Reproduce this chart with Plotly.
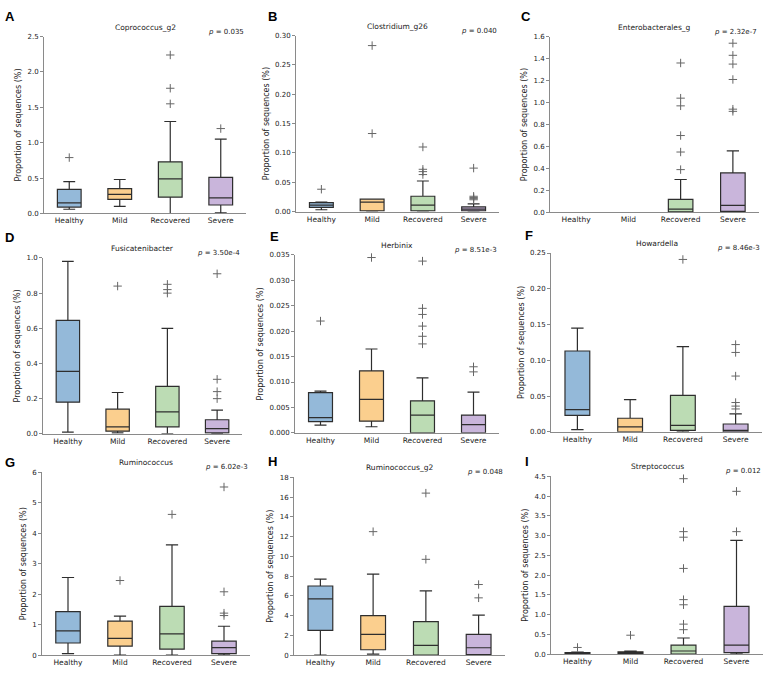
import plotly.graph_objects as go

# ---------------- data ----------------
GROUPS = ["Healthy", "Mild", "Recovered", "Severe"]
TAXA = ["Coprococcus_g2", "Clostridium_g26", "Enterobacterales_g",
        "Fusicatenibacter", "Herbinix", "Howardella",
        "Ruminococcus", "Ruminococcus_g2", "Streptococcus"]
PANEL_LETTERS = ["A", "B", "C", "D", "E", "F", "G", "H", "I"]
P_VALUES = ["0.035", "0.040", "2.32e-7", "3.50e-4", "8.51e-3", "8.46e-3",
            "6.02e-3", "0.048", "0.012"]

# box statistics per group: [lower whisker, q1, median, q3, upper whisker]
coprococcus_g2_box = [[0.06, 0.09, 0.15, 0.34, 0.45], [0.10, 0.20, 0.27, 0.35, 0.48],
                      [0.00, 0.23, 0.49, 0.73, 1.30], [0.01, 0.12, 0.22, 0.51, 1.05]]
coprococcus_g2_out = [[0.79], [], [1.55, 1.77, 2.24], [1.20]]

clostridium_g26_box = [[0.003, 0.007, 0.011, 0.015, 0.016], [0.0, 0.001, 0.016, 0.021, 0.021],
                       [0.0, 0.001, 0.011, 0.026, 0.052], [0.0, 0.001, 0.004, 0.008, 0.013]]
clostridium_g26_out = [[0.038], [0.133, 0.283], [0.063, 0.068, 0.072, 0.110],
                       [0.020, 0.022, 0.024, 0.026, 0.074]]

enterobacterales_g_box = [[0.0, 0.0, 0.0, 0.0, 0.0], [0.0, 0.0, 0.0, 0.0, 0.0],
                          [0.0, 0.005, 0.03, 0.12, 0.30], [0.0, 0.01, 0.065, 0.36, 0.56]]
enterobacterales_g_out = [[], [], [0.39, 0.55, 0.70, 0.97, 1.04, 1.36],
                          [0.92, 0.94, 1.21, 1.35, 1.43, 1.54]]

fusicatenibacter_box = [[0.01, 0.18, 0.355, 0.645, 0.98], [0.005, 0.015, 0.04, 0.14, 0.235],
                        [0.0, 0.04, 0.125, 0.27, 0.60], [0.0, 0.005, 0.03, 0.08, 0.135]]
fusicatenibacter_out = [[], [0.84], [0.80, 0.82, 0.85], [0.20, 0.24, 0.31, 0.91]]

herbinix_box = [[0.0015, 0.0022, 0.0030, 0.0079, 0.0082], [0.0012, 0.0023, 0.0066, 0.0122, 0.0165],
                [0.0, 0.0, 0.0035, 0.0063, 0.0108], [0.0, 0.0, 0.0016, 0.0035, 0.0080]]
herbinix_out = [[0.022], [0.0345], [0.0175, 0.0190, 0.0210, 0.0233, 0.0245, 0.0338],
                [0.0120, 0.0130]]

howardella_box = [[0.003, 0.023, 0.031, 0.113, 0.145], [0.0, 0.0, 0.007, 0.019, 0.045],
                  [0.0, 0.002, 0.009, 0.051, 0.119], [0.0, 0.0, 0.002, 0.011, 0.025]]
howardella_out = [[], [], [0.241], [0.032, 0.036, 0.041, 0.078, 0.111, 0.122]]

ruminococcus_box = [[0.05, 0.40, 0.80, 1.43, 2.55], [0.0, 0.30, 0.55, 1.12, 1.28],
                    [0.0, 0.20, 0.70, 1.60, 3.62], [0.0, 0.05, 0.25, 0.46, 0.95]]
ruminococcus_out = [[], [2.45], [4.62], [1.30, 1.38, 2.08, 5.52]]

ruminococcus_g2_box = [[0.0, 2.5, 5.7, 7.0, 7.7], [0.1, 0.55, 2.1, 4.0, 8.2],
                       [0.0, 0.0, 1.0, 3.4, 6.5], [0.0, 0.05, 0.75, 2.1, 4.05]]
ruminococcus_g2_out = [[], [12.5], [9.7, 16.4], [5.8, 7.15]]

streptococcus_box = [[0.0, 0.01, 0.02, 0.04, 0.05], [0.0, 0.01, 0.04, 0.06, 0.08],
                     [0.0, 0.0, 0.08, 0.23, 0.41], [0.0, 0.04, 0.23, 1.21, 2.88]]
streptococcus_out = [[0.17], [0.48], [0.62, 0.76, 1.25, 1.38, 2.17, 2.96, 3.10, 4.44],
                     [3.10, 4.12]]

BOXES = [coprococcus_g2_box, clostridium_g26_box, enterobacterales_g_box,
         fusicatenibacter_box, herbinix_box, howardella_box,
         ruminococcus_box, ruminococcus_g2_box, streptococcus_box]
OUTLIERS = [coprococcus_g2_out, clostridium_g26_out, enterobacterales_g_out,
            fusicatenibacter_out, herbinix_out, howardella_out,
            ruminococcus_out, ruminococcus_g2_out, streptococcus_out]

# y axis ticks per panel (top value, step, format)
Y_TOP = [2.5, 0.30, 1.6, 1.0, 0.035, 0.25, 6, 18, 4.5]
Y_STEP = [0.5, 0.05, 0.2, 0.2, 0.005, 0.05, 1, 2, 0.5]
Y_FMT = [".1f", ".2f", ".1f", ".1f", ".3f", ".2f", "d", "d", ".1f"]

# ---------------- style / layout ----------------
W, H = 767, 673
FILLS = ["#94b9d9", "#fbcf8e", "#bcdcb4", "#c9b5db"]
FONT = "DejaVu Sans"
# plot areas in pixels: (left, right, top, bottom)
AREAS = [(44, 246, 33, 212), (296, 499, 32, 210), (550, 759, 33, 211),
         (43, 242, 257, 435), (295, 499, 254, 434), (551, 762, 252, 433),
         (42, 250, 474, 659), (294, 505, 479, 659), (551, 763, 478, 658)]
LETTER_POS = [(3, 3), (266, 3), (519, 3), (3, 227), (268, 226), (523, 225),
              (3, 454), (266, 453), (523, 453)]

fig = go.Figure()
annotations = []
layout = {}

for i in range(9):
    n = i + 1
    xa = "x" if n == 1 else f"x{n}"
    ya = "y" if n == 1 else f"y{n}"
    l, r, t, b = AREAS[i]
    for g in range(4):
        lo, q1, med, q3, hi = BOXES[i][g]
        fig.add_trace(go.Box(
            x=[g + 1], q1=[q1], median=[med], q3=[q3], lowerfence=[lo], upperfence=[hi],
            width=0.47, whiskerwidth=0.5, fillcolor=FILLS[g],
            line=dict(color="#2e2e2e", width=1.2), boxpoints=False,
            showlegend=False, hoverinfo="skip", xaxis=xa, yaxis=ya))
        outs = OUTLIERS[i][g]
        if outs:
            fig.add_trace(go.Scatter(
                x=[g + 1] * len(outs), y=outs, mode="markers",
                marker=dict(symbol="cross-thin", size=6, color="#666666",
                            line=dict(width=1, color="#666666")),
                showlegend=False, hoverinfo="skip", xaxis=xa, yaxis=ya, cliponaxis=False))
    nticks = int(round(Y_TOP[i] / Y_STEP[i]))
    tickvals = [k * Y_STEP[i] for k in range(nticks + 1)]
    if Y_FMT[i] == "d":
        ticktext = [str(int(round(v))) for v in tickvals]
    else:
        ticktext = [format(v, Y_FMT[i]) for v in tickvals]
    xkey = "xaxis" if n == 1 else f"xaxis{n}"
    ykey = "yaxis" if n == 1 else f"yaxis{n}"
    layout[xkey] = dict(
        domain=[l / W, r / W], range=[0.5, 4.5], anchor=ya,
        tickvals=[1, 2, 3, 4], ticktext=GROUPS, ticks="", ticklen=0, showgrid=False,
        zeroline=False, showline=True, linecolor="#8a8a8a", linewidth=1,
        tickfont=dict(family=FONT, size=7.5, color="#222"), fixedrange=True)
    layout[ykey] = dict(
        domain=[1 - b / H, 1 - t / H], range=[0, Y_TOP[i]], anchor=xa,
        tickvals=tickvals, ticktext=ticktext, ticks="outside", ticklen=3,
        tickcolor="#8a8a8a", showgrid=False, zeroline=False, showline=True,
        linecolor="#8a8a8a", linewidth=1,
        tickfont=dict(family=FONT, size=7, color="#222"),
        title=dict(text="Proportion of sequences (%)",
                   font=dict(family=FONT, size=8, color="#222"), standoff=4),
        fixedrange=True)
    # subplot title
    annotations.append(dict(
        text=TAXA[i], xref="paper", yref="paper", x=(l + r) / 2 / W,
        y=1 - (t - 3) / H, xanchor="center", yanchor="bottom", showarrow=False,
        font=dict(family=FONT, size=7.5, color="#222")))
    # p value
    annotations.append(dict(
        text=f"<i>p</i> = {P_VALUES[i]}", xref="paper", yref="paper", x=r / W,
        y=1 - (t + 1) / H, xanchor="right", yanchor="bottom", showarrow=False,
        font=dict(family=FONT, size=7, color="#222")))
    # panel letter
    lx, ly = LETTER_POS[i]
    annotations.append(dict(
        text=f"<b>{PANEL_LETTERS[i]}</b>", xref="paper", yref="paper", x=lx / W,
        y=1 - ly / H, xanchor="left", yanchor="top", showarrow=False,
        font=dict(family="Liberation Sans", size=13, color="#000")))

fig.update_layout(
    width=W, height=H, margin=dict(l=0, r=0, t=0, b=0),
    paper_bgcolor="white", plot_bgcolor="white",
    annotations=annotations, **layout)

fig.write_html("out.html", config={"displayModeBar": False},
               post_script="document.body.style.margin='0px';"
                           "document.body.style.overflow='hidden';")
